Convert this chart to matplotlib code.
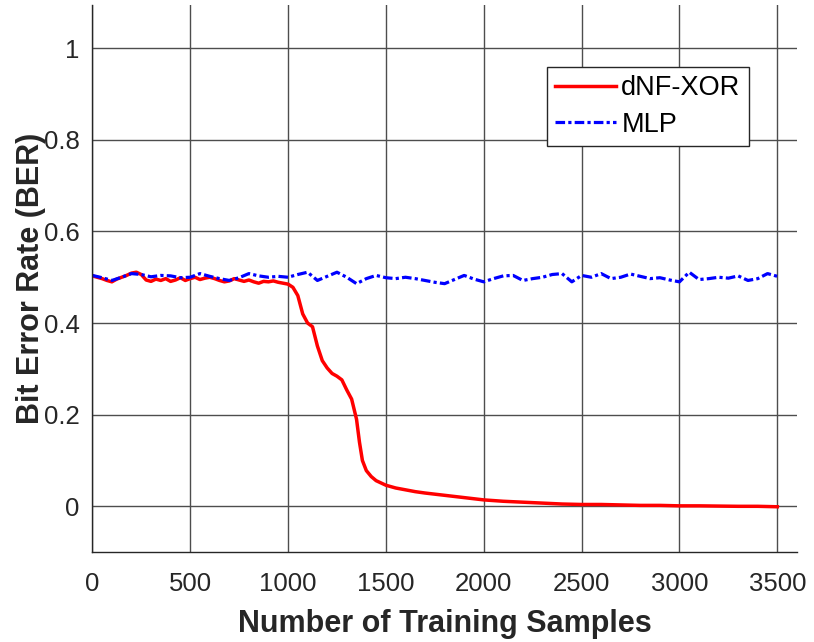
import numpy as np
import matplotlib
matplotlib.use('Agg')
import matplotlib.pyplot as plt

plt.rcParams['font.family'] = ['Liberation Sans', 'DejaVu Sans']

# dNF-XOR curve (BER vs training samples)
dnf_x = [0, 25, 50, 75, 100, 125, 150, 175, 200, 225, 250, 275, 300, 325, 350,
         375, 400, 425, 450, 475, 500, 525, 550, 575, 600, 625, 650, 675, 700,
         725, 750, 775, 800, 825, 850, 875, 900, 925, 950, 975, 1000, 1025,
         1050, 1075, 1100, 1125, 1150, 1175, 1200, 1225, 1250, 1275, 1300,
         1325, 1350, 1365, 1380, 1400, 1425, 1450, 1500, 1550, 1600, 1650,
         1700, 1800, 1900, 2000, 2100, 2200, 2300, 2400, 2500, 2600, 2700,
         2800, 2900, 3000, 3100, 3200, 3300, 3400, 3500]
dnf_y = [0.503, 0.500, 0.497, 0.493, 0.490, 0.496, 0.500, 0.504, 0.509, 0.511,
         0.506, 0.494, 0.491, 0.496, 0.493, 0.497, 0.491, 0.494, 0.499, 0.493,
         0.497, 0.500, 0.495, 0.498, 0.500, 0.497, 0.493, 0.490, 0.492, 0.497,
         0.494, 0.491, 0.494, 0.490, 0.487, 0.491, 0.490, 0.492, 0.489, 0.487,
         0.485, 0.478, 0.460, 0.420, 0.400, 0.392, 0.350, 0.318, 0.302, 0.290,
         0.284, 0.276, 0.254, 0.234, 0.190, 0.140, 0.100, 0.078, 0.065, 0.056,
         0.046, 0.040, 0.036, 0.032, 0.029, 0.024, 0.019, 0.014, 0.011, 0.009,
         0.007, 0.005, 0.004, 0.004, 0.003, 0.002, 0.002, 0.001, 0.001, 0.0005,
         0.000, 0.000, -0.001]

# MLP curve
mlp_x = list(range(0, 3501, 50))
mlp_y = [0.504, 0.499, 0.493, 0.500, 0.508, 0.506, 0.501, 0.504, 0.503, 0.499,
         0.500, 0.508, 0.502, 0.497, 0.493, 0.499, 0.508, 0.503, 0.500, 0.502,
         0.500, 0.506, 0.511, 0.493, 0.502, 0.511, 0.500, 0.486, 0.497, 0.504,
         0.499, 0.497, 0.500, 0.497, 0.493, 0.489, 0.486, 0.495, 0.504, 0.496,
         0.490, 0.497, 0.503, 0.504, 0.493, 0.497, 0.500, 0.506, 0.508, 0.490,
         0.504, 0.500, 0.508, 0.497, 0.500, 0.507, 0.502, 0.497, 0.499, 0.494,
         0.490, 0.511, 0.495, 0.497, 0.500, 0.498, 0.503, 0.493, 0.497, 0.508,
         0.502]

x_ticks = [0, 500, 1000, 1500, 2000, 2500, 3000, 3500]
y_ticks = [0, 0.2, 0.4, 0.6, 0.8, 1]
y_ticklabels = ['0', '0.2', '0.4', '0.6', '0.8', '1']

fig = plt.figure(figsize=(8.14, 6.42), dpi=100)
ax = fig.add_axes([0.1134, 0.140, 0.8656, 0.852])

ax.plot(dnf_x, dnf_y, color='#ff0000', linewidth=2.5, label='dNF-XOR')
ax.plot(mlp_x, mlp_y, color='#0000ff', linewidth=2.3, linestyle=(0, (3, 1, 1, 1)),
        label='MLP')

ax.set_xlim(0, 3600)
ax.set_ylim(-0.1, 1.094)
ax.set_xticks(x_ticks)
ax.set_yticks(y_ticks)
ax.set_yticklabels(y_ticklabels)
ax.grid(True, color='#4d4d4d', linewidth=1.0)
ax.set_axisbelow(True)
for side in ['top', 'right']:
    ax.spines[side].set_visible(False)
for side in ['left', 'bottom']:
    ax.spines[side].set_color('#262626')
    ax.spines[side].set_linewidth(1.0)
ax.tick_params(direction='in', length=0, labelsize=18.5, colors='#262626')
ax.tick_params(axis='x', pad=14)
ax.tick_params(axis='y', pad=9)

ax.set_xlabel('Number of Training Samples', fontsize=22, fontweight='bold',
              color='#262626')
ax.xaxis.label.set_verticalalignment('baseline')
ax.xaxis.set_label_coords(0.5, -0.146)
ax.set_ylabel('Bit Error Rate (BER)', fontsize=22, fontweight='bold',
              color='#262626')
ax.yaxis.label.set_verticalalignment('baseline')
ax.yaxis.set_label_coords(-0.076, 0.5)

leg = ax.legend(loc='upper left', bbox_to_anchor=(0.645, 0.887), fontsize=19.5,
                frameon=True, fancybox=False, edgecolor='#262626', framealpha=1,
                handlelength=2.25, handletextpad=0.2, borderpad=0.3,
                labelspacing=0.4, borderaxespad=0)
leg.get_frame().set_linewidth(1.0)

fig.savefig('out.png', dpi=100)
